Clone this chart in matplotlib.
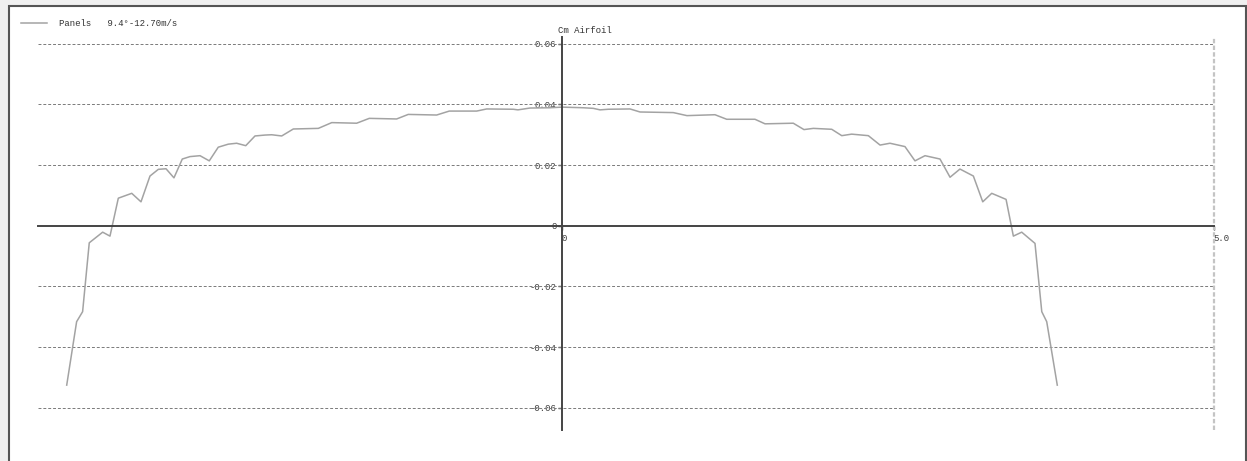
import matplotlib
matplotlib.use("Agg")
import matplotlib.pyplot as plt
from matplotlib.patches import Rectangle

# spanwise station (m) and pitching moment coefficient, panel method
span_pos = [
    -3.801, -3.725, -3.679, -3.628, -3.525, -3.469, -3.405, -3.302, -3.231,
    -3.162, -3.098, -3.039, -2.978, -2.914, -2.855, -2.778, -2.707, -2.638,
    -2.561, -2.497, -2.427, -2.356, -2.279, -2.228, -2.151, -2.062, -1.870,
    -1.767, -1.576, -1.479, -1.269, -1.180, -0.962, -0.865, -0.655, -0.578,
    -0.374, -0.338, -0.246, -0.092, 0.000,
    0.161, 0.240, 0.292, 0.355, 0.522, 0.599, 0.854, 0.959, 1.174, 1.264,
    1.481, 1.558, 1.775, 1.857, 1.929, 2.070, 2.147, 2.223, 2.351, 2.441,
    2.517, 2.632, 2.709, 2.786, 2.901, 2.978, 3.054, 3.157, 3.229, 3.298,
    3.408, 3.464, 3.528, 3.630, 3.682, 3.720, 3.801,
]
cm_airfoil = [
    -0.0525, -0.0316, -0.0283, -0.0056, -0.0021, -0.0034, 0.0091, 0.0107, 0.0079,
    0.0164, 0.0186, 0.0188, 0.0158, 0.0220, 0.0228, 0.0231, 0.0214, 0.0259,
    0.0269, 0.0272, 0.0264, 0.0296, 0.0299, 0.0300, 0.0296, 0.0319, 0.0321,
    0.0340, 0.0338, 0.0354, 0.0352, 0.0367, 0.0365, 0.0378, 0.0378, 0.0385,
    0.0384, 0.0382, 0.0388, 0.0389, 0.0391,
    0.0389, 0.0387, 0.0382, 0.0384, 0.0385, 0.0375, 0.0373, 0.0363, 0.0366, 0.0351,
    0.0351, 0.0336, 0.0338, 0.0317, 0.0321, 0.0318, 0.0297, 0.0302, 0.0297, 0.0266,
    0.0272, 0.0261, 0.0214, 0.0231, 0.0220, 0.0160, 0.0187, 0.0164, 0.0079, 0.0107,
    0.0087, -0.0034, -0.0021, -0.0058, -0.0283, -0.0316, -0.0525,
]

y_ticks = [-0.06, -0.04, -0.02, 0.0, 0.02, 0.04, 0.06]
y_labels = ["-0.06", "-0.04", "-0.02", "0", "0.02", "0.04", "0.06"]
x_ticks = [0.0, 5.0]
x_labels = ["0", "5.0"]
legend_text = "Panels   9.4°-12.70m/s"

mono = "Liberation Mono"
fs = 6.5

fig = plt.figure(figsize=(12.47, 4.61), dpi=100, facecolor="#f0f0f0")
# white graph panel with dark border, kept behind the axes
fig.add_artist(Rectangle((9 / 1247, -0.05), 1237 / 1247, 1.05 - 6 / 461,
                         transform=fig.transFigure, facecolor="white",
                         edgecolor="#555555", lw=1.5, zorder=-10))

ax = fig.add_axes([0, 0, 1, 1])
ax.set_facecolor("none")
ax.set_xlim(-4.313, 5.257)
ax.set_ylim(-0.0775, 0.0744)

x_lo, x_hi = -4.02, 5.0
y_lo, y_hi = -0.0673, 0.0622

# dashed grid
grid_y = [v for v in y_ticks if v != 0]
ax.hlines(grid_y, x_lo, x_hi, colors="#7a7a7a", lw=0.7, linestyles=(0, (3, 2)))
ax.vlines(x_hi, y_lo, y_hi, colors="#c4c4c4", lw=1.6, linestyles=(0, (2, 1)))

ax.plot(span_pos, cm_airfoil, color="#a3a3a3", lw=1.1, label=legend_text)

# axes crossing at the origin
for side in ("top", "right"):
    ax.spines[side].set_visible(False)
ax.spines["left"].set_position(("data", 0))
ax.spines["bottom"].set_position(("data", 0))
ax.spines["left"].set_bounds(y_lo, y_hi)
ax.spines["bottom"].set_bounds(x_lo, x_hi)
for side in ("left", "bottom"):
    ax.spines[side].set_color("#444444")
    ax.spines[side].set_linewidth(1.4)

ax.set_yticks(y_ticks)
ax.set_yticklabels(y_labels, fontfamily=mono, fontsize=fs, color="#3c3c3c")
ax.set_xticks(x_ticks)
ax.set_xticklabels(x_labels, fontfamily=mono, fontsize=fs, color="#3c3c3c")
for lab in ax.get_xticklabels():
    lab.set_horizontalalignment("left")
ax.tick_params(axis="both", direction="out", length=3, width=1, color="#444444")
ax.tick_params(axis="y", pad=1)
ax.tick_params(axis="x", pad=3)

ax.text(-0.03, 0.0642, "Cm Airfoil", fontfamily=mono, fontsize=fs,
        color="#333333", ha="left", va="center")

ax.legend(loc="center left", bbox_to_anchor=(21 / 1247, 1 - 24 / 461),
          bbox_transform=fig.transFigure, frameon=False, borderpad=0,
          borderaxespad=0, handlelength=2.9, handletextpad=1.3,
          prop={"family": mono, "size": fs}, labelcolor="#333333")

fig.savefig("out.png", dpi=100, facecolor=fig.get_facecolor())
